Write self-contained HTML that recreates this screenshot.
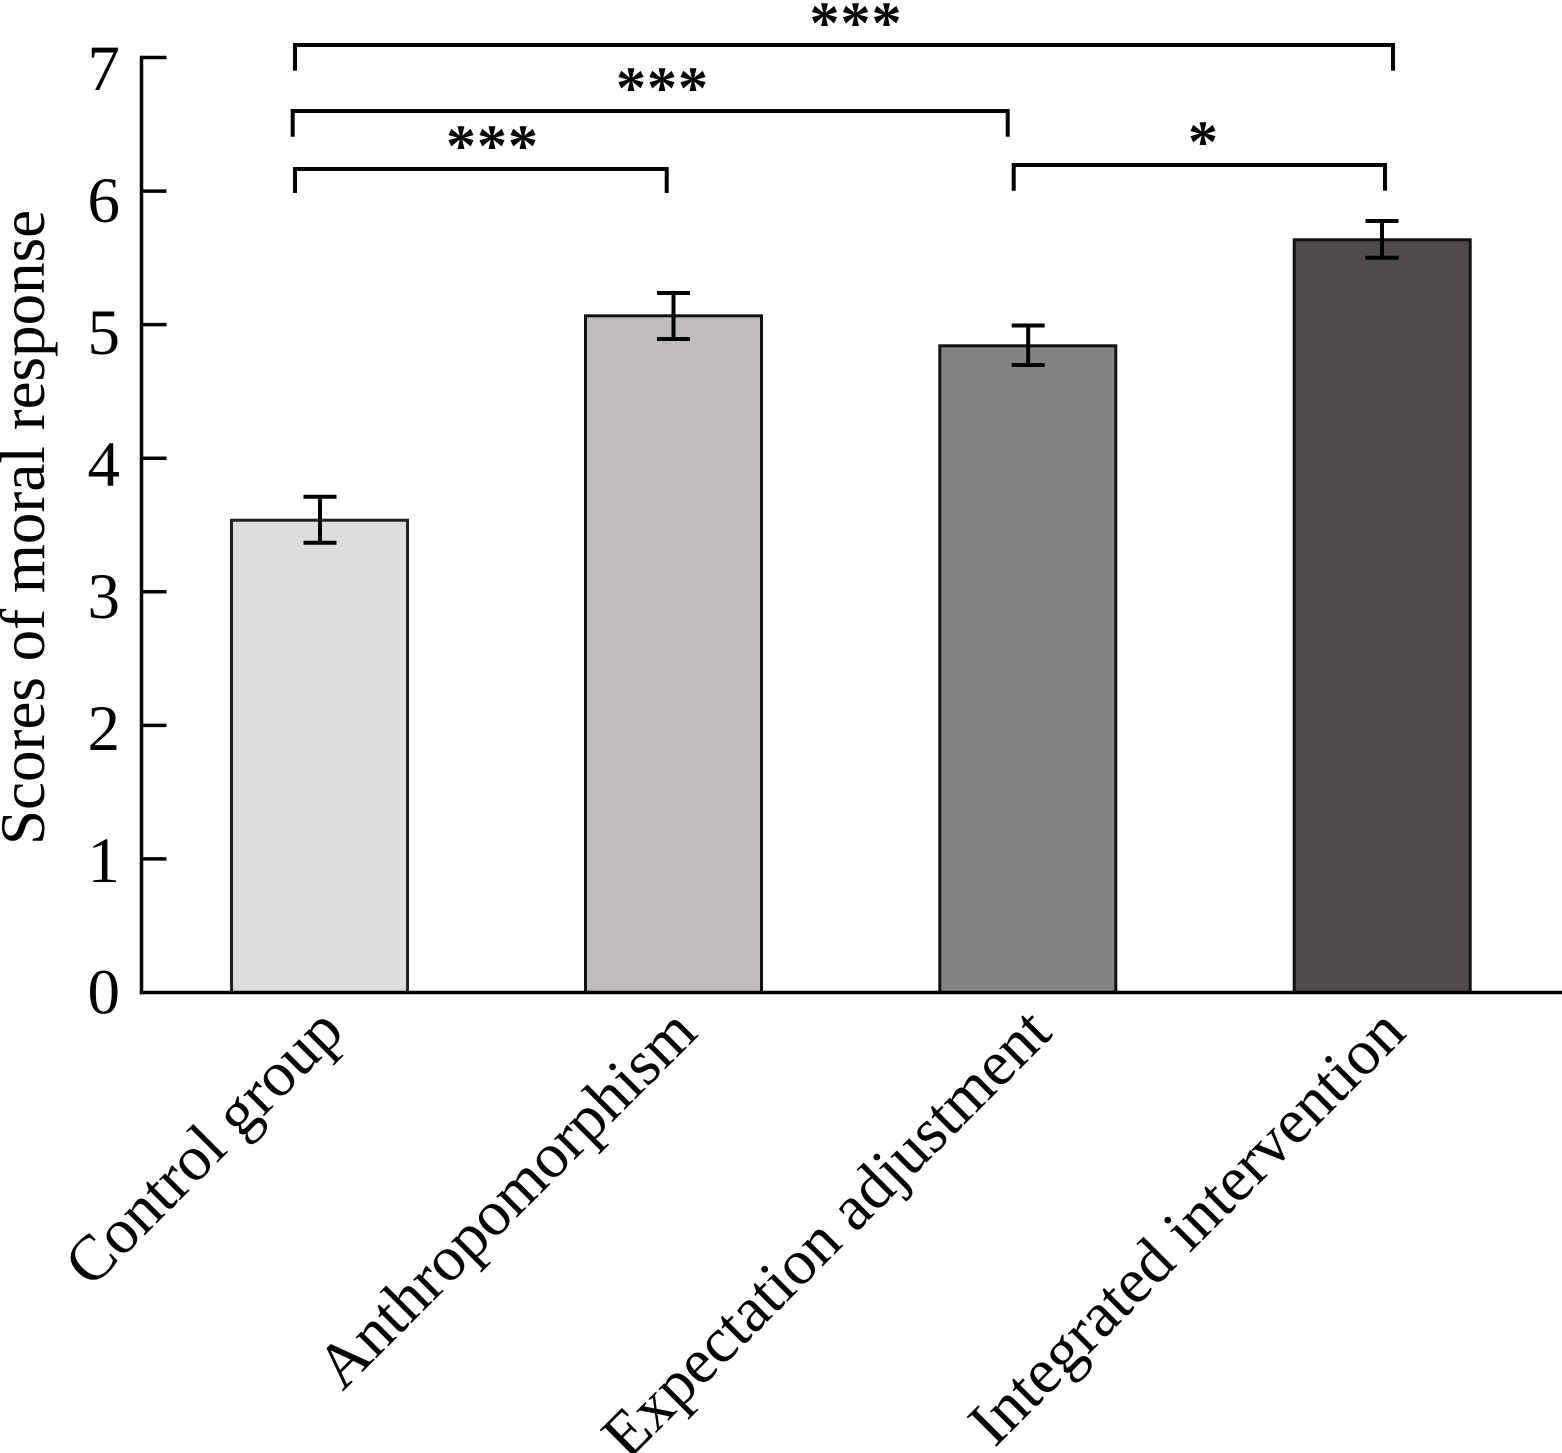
<!DOCTYPE html>
<html>
<head>
<meta charset="utf-8">
<style>
  html, body { margin: 0; padding: 0; background: #ffffff; }
  svg { display: block; }
  text { font-family: "Liberation Serif", "Times New Roman", serif; fill: #000; }
</style>
</head>
<body>
<svg width="1562" height="1453" viewBox="0 0 1562 1453" xmlns="http://www.w3.org/2000/svg" font-family="'Liberation Serif', 'Times New Roman', serif">
  <rect x="0" y="0" width="1562" height="1453" fill="#ffffff"/>

  <!-- Bars -->
  <rect x="231.5" y="520.2" width="176" height="472.3" fill="#dddcdf" stroke="#222" stroke-width="3"/>
  <rect x="585.5" y="315.8" width="176" height="676.7" fill="#bfbbbf" stroke="#111" stroke-width="3"/>
  <rect x="939.8" y="345.8" width="176" height="646.7" fill="#858286" stroke="#111" stroke-width="3"/>
  <rect x="1294.2" y="239.8" width="176" height="752.7" fill="#4f4b4d" stroke="#111" stroke-width="3"/>

  <!-- Error bars -->
  <g stroke="#000" stroke-width="4" fill="none">
    <line x1="320" y1="496.7" x2="320" y2="542.7"/>
    <line x1="303.5" y1="496.7" x2="336.5" y2="496.7"/>
    <line x1="303.5" y1="542.7" x2="336.5" y2="542.7"/>

    <line x1="673.5" y1="293" x2="673.5" y2="339"/>
    <line x1="657" y1="293" x2="690" y2="293"/>
    <line x1="657" y1="339" x2="690" y2="339"/>

    <line x1="1028.2" y1="325.5" x2="1028.2" y2="365"/>
    <line x1="1011.7" y1="325.5" x2="1044.7" y2="325.5"/>
    <line x1="1011.7" y1="365" x2="1044.7" y2="365"/>

    <line x1="1382" y1="221" x2="1382" y2="257.7"/>
    <line x1="1365.5" y1="221" x2="1398.5" y2="221"/>
    <line x1="1365.5" y1="257.7" x2="1398.5" y2="257.7"/>
  </g>

  <!-- Axes -->
  <g stroke="#000" stroke-width="3.5" fill="none">
    <line x1="141.5" y1="55.8" x2="141.5" y2="994.2"/>
    <line x1="139.8" y1="992.5" x2="1562" y2="992.5"/>
    <line x1="141.5" y1="57.5" x2="166.5" y2="57.5"/>
    <line x1="141.5" y1="191.1" x2="166.5" y2="191.1"/>
    <line x1="141.5" y1="324.6" x2="166.5" y2="324.6"/>
    <line x1="141.5" y1="458.2" x2="166.5" y2="458.2"/>
    <line x1="141.5" y1="591.8" x2="166.5" y2="591.8"/>
    <line x1="141.5" y1="725.4" x2="166.5" y2="725.4"/>
    <line x1="141.5" y1="858.9" x2="166.5" y2="858.9"/>
  </g>

  <!-- Tick labels -->
  <g font-size="65" text-anchor="end">
    <text x="120" y="90">7</text>
    <text x="120" y="222">6</text>
    <text x="120" y="354">5</text>
    <text x="120" y="486">4</text>
    <text x="120" y="618">3</text>
    <text x="120" y="750">2</text>
    <text x="120" y="882">1</text>
    <text x="120" y="1013.5">0</text>
  </g>

  <!-- Y axis label -->
  <text x="44" y="527.5" font-size="63" text-anchor="middle" transform="rotate(-90 44 527.5)">Scores of moral response</text>

  <!-- X labels -->
  <g font-size="64" text-anchor="end">
    <text x="346" y="1034" transform="rotate(-45 346 1034)">Control group</text>
    <text x="699.5" y="1035" transform="rotate(-45 699.5 1035)">Anthropomorphism</text>
    <text x="1054" y="1035" transform="rotate(-45 1054 1035)">Expectation adjustment</text>
    <text x="1408" y="1035" transform="rotate(-45 1408 1035)">Integrated intervention</text>
  </g>

  <!-- Significance brackets -->
  <g stroke="#000" stroke-width="4" fill="none" stroke-linejoin="miter">
    <polyline points="295,70.7 295,45 1393,45 1393,70.7"/>
    <polyline points="292.7,136.7 292.7,111 1007.7,111 1007.7,136.7"/>
    <polyline points="295,193 295,169 666.7,169 666.7,193"/>
    <polyline points="1013.7,190.7 1013.7,165 1385,165 1385,190.7"/>
  </g>

  <!-- Stars -->
  <g font-size="60" font-weight="bold" text-anchor="middle">
    <text x="856" y="43" letter-spacing="1">***</text>
    <text x="662.5" y="108" letter-spacing="1">***</text>
    <text x="492.5" y="166" letter-spacing="1">***</text>
    <text x="1203" y="162">*</text>
  </g>
</svg>
</body>
</html>
